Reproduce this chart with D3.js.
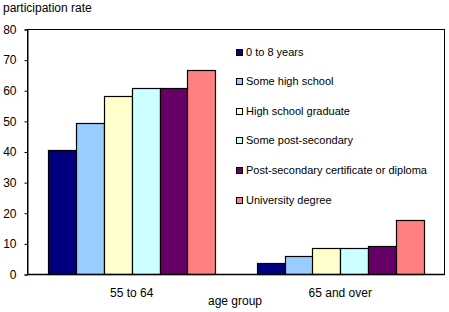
<!DOCTYPE html>
<html><head><meta charset="utf-8">
<script src="https://cdn.jsdelivr.net/npm/d3@7"></script>
<style>body{margin:0;background:#fff}svg{display:block;font-family:"Liberation Sans",Arial,sans-serif}</style>
</head><body><svg id="c" width="449" height="312"></svg>
<script>
const categories = ["55 to 64", "65 and over"];
const seriesNames = ["0 to 8 years","Some high school","High school graduate","Some post-secondary","Post-secondary certificate or diploma","University degree"];
const seriesColors = ["#000080","#99CCFF","#FFFFCC","#CCFFFF","#660066","#FF8080"];
const values55 = [40.8, 49.6, 58.3, 61.0, 61.0, 66.9];
const values65 = [3.9, 6.1, 8.5, 8.8, 9.4, 17.9];
const yTicks = [0,10,20,30,40,50,60,70,80];

const data = [values55, values65];
const svg = d3.select("#c");
const L=27.5, R=444.5, T=29.5, B=274.5;
const x0 = d3.scaleBand().domain(categories).range([L,R]).paddingInner(0.2).paddingOuter(0.1);
const x1 = d3.scaleBand().domain(d3.range(seriesNames.length)).range([0,x0.bandwidth()]);
const y = d3.scaleLinear().domain([0,80]).range([B,T]);

// frame
svg.append("rect").attr("x",L).attr("y",T).attr("width",R-L).attr("height",B-T).attr("fill","none").attr("stroke","#000").attr("stroke-width",1);

const g = svg.append("g");
categories.forEach((c,ci)=>{
  g.selectAll(null).data(data[ci]).enter().append("rect")
    .attr("x",(d,i)=>Math.round(x0(c)+x1(i))+0.5)
    .attr("y",d=>Math.round(y(d))+0.5)
    .attr("width",Math.round(x1.bandwidth()))
    .attr("height",d=>B-Math.round(y(d))-0.5)
    .attr("fill",(d,i)=>seriesColors[i]).attr("stroke","#000").attr("stroke-width",1.2);
});

// y axis
const ya = svg.append("g").attr("transform",`translate(${L},0)`)
  .call(d3.axisLeft(y).tickValues(yTicks).tickSize(3).tickPadding(8));
ya.select(".domain").attr("stroke","#000");
ya.selectAll("text").attr("font-size",12).attr("font-family","Liberation Sans, Arial, sans-serif").attr("fill","#000");

// x axis line
svg.append("line").attr("x1",L).attr("x2",R).attr("y1",B).attr("y2",B).attr("stroke","#000").attr("stroke-width",1.5);

// category labels
categories.forEach(c=>{
  svg.append("text").attr("x",x0(c)+x0.bandwidth()/2).attr("y",297).attr("text-anchor","middle").attr("font-size",12).text(c);
});
svg.append("text").attr("x",208).attr("y",305).attr("font-size",12).text("age group");
svg.append("text").attr("x",3).attr("y",12).attr("font-size",12).text("participation rate");

// legend
const lg = svg.append("g");
seriesNames.forEach((n,i)=>{
  const cy = 51.5 + i*29.6;
  lg.append("rect").attr("x",236.5).attr("y",Math.round(cy-3)+0.5).attr("width",6).attr("height",6).attr("fill",seriesColors[i]).attr("stroke","#000").attr("stroke-width",1);
  lg.append("text").attr("x",246).attr("y",cy+4).attr("font-size",11).text(n);
});
</script></body></html>
